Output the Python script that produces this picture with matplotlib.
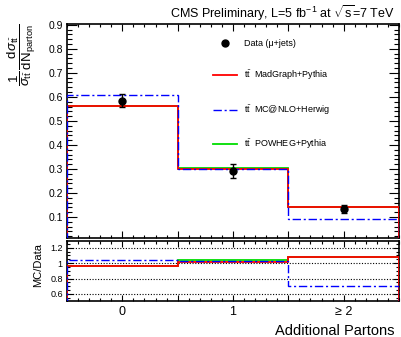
import numpy as np
import matplotlib
matplotlib.use("Agg")
import matplotlib.pyplot as plt
from matplotlib.ticker import MultipleLocator, FixedLocator, FixedFormatter
from matplotlib.lines import Line2D

plt.rcParams['font.family'] = ['Liberation Sans', 'DejaVu Sans']
plt.rcParams['mathtext.fontset'] = 'custom'
plt.rcParams['mathtext.rm'] = 'Liberation Sans'
plt.rcParams['mathtext.it'] = 'Liberation Sans:italic'
plt.rcParams['mathtext.sf'] = 'Liberation Sans'

# data
edges = [-0.5, 0.5, 1.5, 2.5]
centers = [0, 1, 2]
tick_labels = ["0", "1", "\u2265 2"]

data_vals = [0.584, 0.292, 0.133]
data_err = [0.027, 0.030, 0.017]
madgraph = [0.562, 0.300, 0.142]
mcatnlo = [0.606, 0.301, 0.093]
powheg = [0.561, 0.302, 0.141]

madgraph_ratio = [0.965, 1.01, 1.085]
mcatnlo_ratio = [1.045, 1.03, 0.71]
powheg_ratio = [0.965, 1.035, 1.08]

red = '#ff0000'
blue = '#0000ff'
green = '#00dd00'
dashdot = (0, (6, 2, 1.5, 2))

fig = plt.figure(figsize=(4.01, 3.37), dpi=100)
ax = fig.add_axes([0.167, 0.294, 0.828, 0.635])
rx = fig.add_axes([0.167, 0.107, 0.828, 0.178])

# main panel
ax.stairs(powheg, edges, color=green, lw=1.3, zorder=2)
ax.stairs(madgraph, edges, color=red, lw=1.3, zorder=3)
ax.stairs(mcatnlo, edges, color=blue, lw=1.0, linestyle=dashdot, zorder=3)
ax.errorbar(centers, data_vals, yerr=data_err, fmt='o', color='black',
            ms=5, elinewidth=1.0, capsize=2.5, capthick=1.0, zorder=5)

ax.set_xlim(-0.5, 2.5)
ax.set_ylim(0.0125, 0.904)
ax.yaxis.set_minor_locator(MultipleLocator(0.02))
ax.set_yticks([0.1, 0.2, 0.3, 0.4, 0.5, 0.6, 0.7, 0.8, 0.9])
ax.set_yticklabels(["0.1", "0.2", "0.3", "0.4", "0.5", "0.6", "0.7", "0.8", "0.9"])
ax.xaxis.set_major_locator(FixedLocator([0, 0.5, 1, 1.5, 2]))
ax.xaxis.set_minor_locator(MultipleLocator(0.1))
ax.xaxis.set_major_formatter(FixedFormatter([""] * 5))
ax.tick_params(axis='both', which='both', direction='in', top=True, right=True,
               labelsize=7.5, pad=3, width=0.8)
ax.tick_params(axis='y', which='major', length=7)
ax.tick_params(axis='y', which='minor', length=3.5)
ax.tick_params(axis='x', which='major', length=5)
ax.tick_params(axis='x', which='minor', length=2.5)
for s in ax.spines.values():
    s.set_linewidth(1.2)

handles = [
    Line2D([], [], marker='o', color='black', ls='none', ms=5),
    Line2D([], [], color=red, lw=1.3),
    Line2D([], [], color=blue, lw=1.0, ls=dashdot),
    Line2D([], [], color=green, lw=1.3),
]
labels = [
    "Data (\u03bc+jets)",
    r"$\mathrm{t\bar{t}}$  MadGraph+Pythia",
    r"$\mathrm{t\bar{t}}$  MC@NLO+Herwig",
    r"$\mathrm{t\bar{t}}$  POWHEG+Pythia",
]
ax.legend(handles, labels, loc='upper left', bbox_to_anchor=(0.44, 0.93),
          frameon=False, fontsize=6.5, labelspacing=2.3, handlelength=2.6,
          handletextpad=0.85, borderpad=0, borderaxespad=0)

# ratio panel
for yv in [0.6, 0.8, 1.0, 1.2]:
    rx.axhline(yv, color='black', lw=0.8, ls=(0, (1, 1.5)), zorder=1)
rx.stairs(powheg_ratio, edges, color=green, lw=1.3, zorder=2)
rx.stairs(madgraph_ratio, edges, color=red, lw=1.3, zorder=3)
rx.stairs(mcatnlo_ratio, edges, color=blue, lw=1.0, linestyle=dashdot, zorder=3)

rx.set_xlim(-0.5, 2.5)
rx.set_ylim(0.51, 1.287)
rx.set_yticks([0.6, 0.8, 1.0, 1.2])
rx.set_yticklabels(["0.6", "0.8", "1", "1.2"])
rx.yaxis.set_minor_locator(MultipleLocator(0.05))
rx.xaxis.set_major_locator(FixedLocator([0, 0.5, 1, 1.5, 2]))
rx.xaxis.set_minor_locator(MultipleLocator(0.1))
rx.xaxis.set_major_formatter(FixedFormatter([tick_labels[0], "", tick_labels[1], "", tick_labels[2]]))
rx.tick_params(axis='both', which='both', direction='in', top=True, right=True, width=0.8)
rx.tick_params(axis='y', which='major', length=4.5, labelsize=6.5, pad=3)
rx.tick_params(axis='y', which='minor', length=2.2)
rx.tick_params(axis='x', which='major', length=4, labelsize=9, pad=4)
rx.tick_params(axis='x', which='minor', length=2)
for s in rx.spines.values():
    s.set_linewidth(1.2)

# labels
fig.text(0.985, 0.962, r"CMS Preliminary, L=5 fb$^{-1}$ at $\sqrt{\mathrm{s}}$=7 TeV",
         ha='right', va='center', fontsize=9)
fig.text(0.055, 0.93,
         r"$\dfrac{1}{\sigma_{\mathrm{t\bar{t}}}}\,\dfrac{\mathrm{d}\sigma_{\mathrm{t\bar{t}}}}{\mathrm{dN}_{\mathrm{parton}}}$",
         rotation=90, ha='center', va='top', fontsize=9.5)
fig.text(0.095, 0.213, "MC/Data", rotation=90, ha='center', va='center', fontsize=8)
fig.text(0.985, 0.006, "Additional Partons", ha='right', va='baseline', fontsize=10.5)

fig.savefig("out.png", dpi=100)
